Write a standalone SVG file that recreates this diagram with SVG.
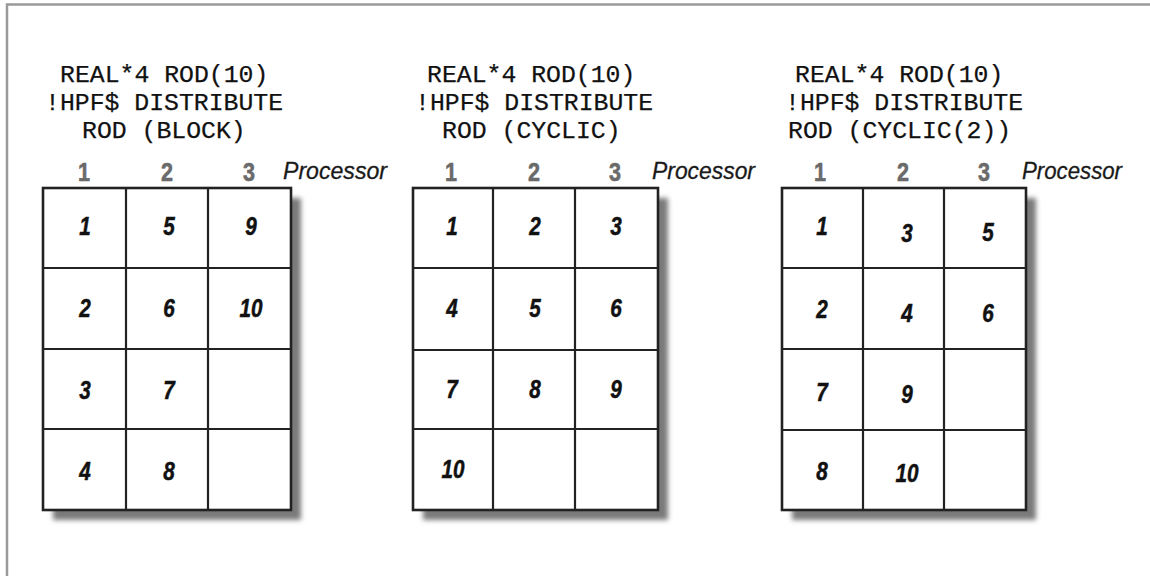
<svg xmlns="http://www.w3.org/2000/svg" width="1150" height="576" viewBox="0 0 1150 576">
<defs>
<filter id="sh" x="-10%" y="-10%" width="130%" height="130%"><feGaussianBlur stdDeviation="2.5"/></filter>
</defs>
<style>
.code{font-family:"Liberation Mono","Courier New",monospace;font-size:24.8px;fill:#111;stroke:#111;stroke-width:0.25;white-space:pre}
.hd{font-family:"Liberation Sans",Arial,sans-serif;font-size:26px;font-weight:bold;fill:#6a6a6a;stroke:#6a6a6a;stroke-width:0.6;text-anchor:middle}
.proc{font-family:"Liberation Sans",Arial,sans-serif;font-size:24px;font-style:italic;fill:#1a1a1a;stroke:#1a1a1a;stroke-width:0.3}
.n{font-family:"Liberation Sans",Arial,sans-serif;font-size:25px;font-weight:bold;font-style:italic;fill:#111;stroke:#111;stroke-width:0.5;text-anchor:middle}
.grid{fill:none;stroke:#222;stroke-width:2.2}
.box{fill:#fff;stroke:#222;stroke-width:2.6}
.shadow{fill:#7a7a7a;filter:url(#sh)}
.frame{stroke:#9a9a9a;stroke-width:2.5;fill:none}
</style>
<rect width="1150" height="576" fill="#fff"/>
<path class="frame" d="M7,576 V4.5 H1150"/>

<g id="panel-block">
<text class="code" x="60" y="82">REAL*4 ROD(10)</text>
<text class="code" x="45" y="110">!HPF$ DISTRIBUTE</text>
<text class="code" x="82" y="138">ROD (BLOCK)</text>
<text class="hd" x="84" y="181" textLength="12" lengthAdjust="spacingAndGlyphs">1</text>
<text class="hd" x="167" y="181" textLength="12" lengthAdjust="spacingAndGlyphs">2</text>
<text class="hd" x="249" y="181" textLength="12" lengthAdjust="spacingAndGlyphs">3</text>
<text class="proc" x="283" y="179" textLength="104" lengthAdjust="spacingAndGlyphs">Processor</text>
<rect class="shadow" x="53" y="198" width="248" height="322"/>
<rect class="box" x="43" y="188" width="248" height="322"/>
<path class="grid" d="M126,188V510M208,188V510M43,268H291M43,349H291M43,429H291"/>
<text class="n" x="85" y="235" textLength="11.5" lengthAdjust="spacingAndGlyphs">1</text>
<text class="n" x="85" y="317" textLength="11.5" lengthAdjust="spacingAndGlyphs">2</text>
<text class="n" x="85" y="399" textLength="11.5" lengthAdjust="spacingAndGlyphs">3</text>
<text class="n" x="85" y="480" textLength="11.5" lengthAdjust="spacingAndGlyphs">4</text>
<text class="n" x="169" y="235" textLength="11.5" lengthAdjust="spacingAndGlyphs">5</text>
<text class="n" x="169" y="317" textLength="11.5" lengthAdjust="spacingAndGlyphs">6</text>
<text class="n" x="169" y="399" textLength="11.5" lengthAdjust="spacingAndGlyphs">7</text>
<text class="n" x="169" y="480" textLength="11.5" lengthAdjust="spacingAndGlyphs">8</text>
<text class="n" x="251" y="235" textLength="11.5" lengthAdjust="spacingAndGlyphs">9</text>
<text class="n" x="251" y="317" textLength="23" lengthAdjust="spacingAndGlyphs">10</text>
</g>

<g id="panel-cyclic">
<text class="code" x="427" y="82">REAL*4 ROD(10)</text>
<text class="code" x="415" y="110">!HPF$ DISTRIBUTE</text>
<text class="code" x="442" y="138">ROD (CYCLIC)</text>
<text class="hd" x="451" y="181" textLength="12" lengthAdjust="spacingAndGlyphs">1</text>
<text class="hd" x="534" y="181" textLength="12" lengthAdjust="spacingAndGlyphs">2</text>
<text class="hd" x="615" y="181" textLength="12" lengthAdjust="spacingAndGlyphs">3</text>
<text class="proc" x="652" y="179" textLength="103" lengthAdjust="spacingAndGlyphs">Processor</text>
<rect class="shadow" x="423" y="198" width="245" height="322"/>
<rect class="box" x="413" y="188" width="245" height="322"/>
<path class="grid" d="M493,188V510M575,188V510M413,268H658M413,350H658M413,429H658"/>
<text class="n" x="452" y="235" textLength="11.5" lengthAdjust="spacingAndGlyphs">1</text>
<text class="n" x="535" y="235" textLength="11.5" lengthAdjust="spacingAndGlyphs">2</text>
<text class="n" x="616" y="235" textLength="11.5" lengthAdjust="spacingAndGlyphs">3</text>
<text class="n" x="452" y="317" textLength="11.5" lengthAdjust="spacingAndGlyphs">4</text>
<text class="n" x="535" y="317" textLength="11.5" lengthAdjust="spacingAndGlyphs">5</text>
<text class="n" x="616" y="317" textLength="11.5" lengthAdjust="spacingAndGlyphs">6</text>
<text class="n" x="452" y="398" textLength="11.5" lengthAdjust="spacingAndGlyphs">7</text>
<text class="n" x="535" y="398" textLength="11.5" lengthAdjust="spacingAndGlyphs">8</text>
<text class="n" x="616" y="398" textLength="11.5" lengthAdjust="spacingAndGlyphs">9</text>
<text class="n" x="453" y="478" textLength="23" lengthAdjust="spacingAndGlyphs">10</text>
</g>

<g id="panel-cyclic2">
<text class="code" x="795" y="82">REAL*4 ROD(10)</text>
<text class="code" x="785" y="110">!HPF$ DISTRIBUTE</text>
<text class="code" x="788" y="138">ROD (CYCLIC(2))</text>
<text class="hd" x="820" y="181" textLength="12" lengthAdjust="spacingAndGlyphs">1</text>
<text class="hd" x="903" y="181" textLength="12" lengthAdjust="spacingAndGlyphs">2</text>
<text class="hd" x="984" y="181" textLength="12" lengthAdjust="spacingAndGlyphs">3</text>
<text class="proc" x="1022" y="179" textLength="100" lengthAdjust="spacingAndGlyphs">Processor</text>
<rect class="shadow" x="792" y="198" width="244" height="322"/>
<rect class="box" x="782" y="188" width="244" height="322"/>
<path class="grid" d="M863,188V510M944,188V510M782,268H1026M782,349H1026M782,430H1026"/>
<text class="n" x="822" y="235" textLength="11.5" lengthAdjust="spacingAndGlyphs">1</text>
<text class="n" x="822" y="318" textLength="11.5" lengthAdjust="spacingAndGlyphs">2</text>
<text class="n" x="822" y="401" textLength="11.5" lengthAdjust="spacingAndGlyphs">7</text>
<text class="n" x="822" y="480" textLength="11.5" lengthAdjust="spacingAndGlyphs">8</text>
<text class="n" x="907" y="242" textLength="11.5" lengthAdjust="spacingAndGlyphs">3</text>
<text class="n" x="907" y="322" textLength="11.5" lengthAdjust="spacingAndGlyphs">4</text>
<text class="n" x="907" y="403" textLength="11.5" lengthAdjust="spacingAndGlyphs">9</text>
<text class="n" x="907" y="482" textLength="23" lengthAdjust="spacingAndGlyphs">10</text>
<text class="n" x="988" y="241" textLength="11.5" lengthAdjust="spacingAndGlyphs">5</text>
<text class="n" x="988" y="322" textLength="11.5" lengthAdjust="spacingAndGlyphs">6</text>
</g>

<g id="connectors"/>
</svg>
